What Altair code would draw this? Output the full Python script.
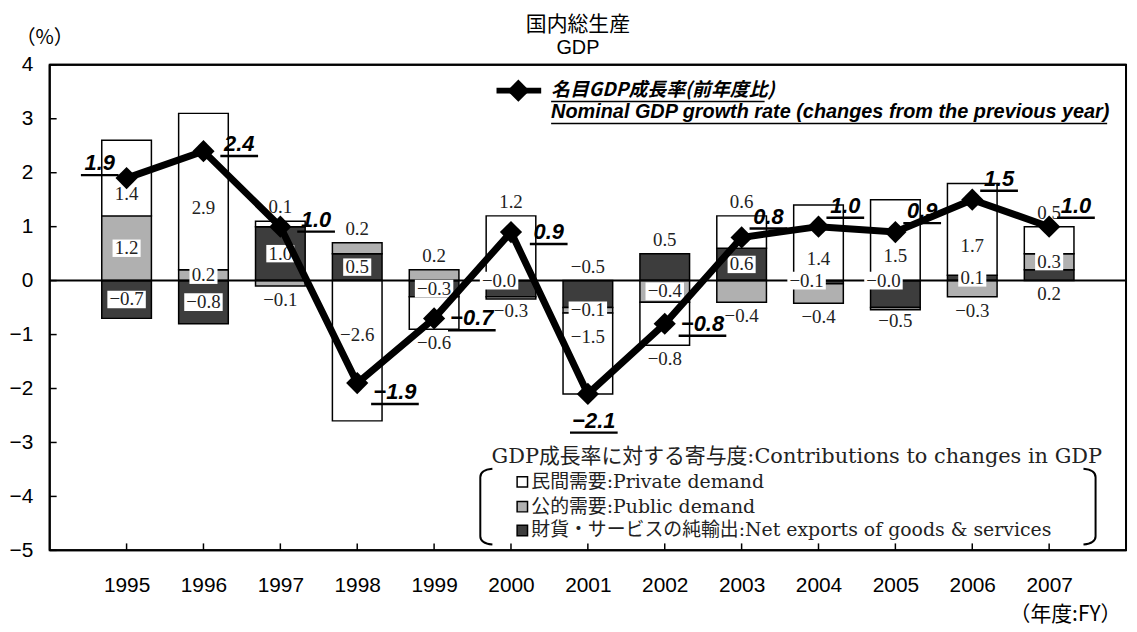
import altair as alt
import pandas as pd

# ---------------- data ----------------
years = [1995, 1996, 1997, 1998, 1999, 2000, 2001, 2002, 2003, 2004, 2005, 2006, 2007]
growth = [1.9, 2.4, 1.0, -1.9, -0.7, 0.9, -2.1, -0.8, 0.8, 1.0, 0.9, 1.5, 1.0]
private_demand = [1.4, 2.9, 0.1, -2.6, -0.6, 1.2, -1.5, -0.8, 0.6, 1.4, 1.5, 1.7, 0.5]
public_demand = [1.2, 0.2, -0.1, 0.2, 0.2, -0.04, -0.1, -0.4, -0.4, -0.36, -0.04, -0.3, 0.3]
net_exports = [-0.7, -0.8, 1.0, 0.5, -0.3, -0.3, -0.5, 0.5, 0.6, -0.06, -0.5, 0.1, 0.2]
y_ticks = [-5, -4, -3, -2, -1, 0, 1, 2, 3, 4]

title_ja = "国内総生産"
title_en = "GDP"
unit_label = "（%）"
fy_label = "（年度:FY）"
line_legend_ja = "名目GDP成長率(前年度比)"
line_legend_en = "Nominal GDP growth rate (changes from the previous year)"
contrib_title = "GDP成長率に対する寄与度:Contributions to changes in GDP"
contrib_items = ["民間需要:Private demand", "公的需要:Public demand",
                 "財貨・サービスの純輸出:Net exports of goods & services"]

# stacking order outward from zero
series_order = ["net", "public", "private"]
fill_colors = {"private": "#ffffff", "public": "#b0b0b0", "net": "#3d3d3d"}


def fmt(v):
    return f"{v:.1f}".replace("-", "\u2212")


# ---------------- stacked segments + label anchors ----------------
rows = []
for i, yr in enumerate(years):
    vals = {"net": net_exports[i], "public": public_demand[i], "private": private_demand[i]}
    pos, neg = 0.0, 0.0
    segs = []
    for s in series_order:
        v = vals[s]
        if v >= 0:
            y0, y1 = pos, pos + v
            pos += v
        else:
            y0, y1 = neg, neg + v
            neg += v
        segs.append({"year": yr, "series": s, "value": v, "y0": y0, "y1": y1, "label": fmt(v)})
    significant = [g for g in segs if abs(g["value"]) >= 0.08]
    outer_pos = [g for g in significant if g["value"] > 0]
    outer_neg = [g for g in significant if g["value"] < 0]
    outer = []
    if outer_pos:
        outer.append(outer_pos[-1]["series"])
    if outer_neg:
        outer.append(outer_neg[-1]["series"])
    for idx, g in enumerate(segs):
        v = g["value"]
        big = 1.25 if g["series"] == "private" else 0.65
        mid = (g["y0"] + g["y1"]) / 2
        if abs(v) < 0.08:
            place, ly = "zero", 0.0
        elif abs(v) >= big:
            place, ly = "center", mid
            if g["series"] == "private":
                ly = mid - 0.3 * (1 if v > 0 else -1)
        elif g["series"] in outer:
            place, ly = ("above" if v > 0 else "below"), g["y1"]
        elif idx == 0 and not (outer_neg if v > 0 else outer_pos):
            place, ly = ("below" if v > 0 else "above"), 0.0
        else:
            place, ly = "center", mid
        g["place"] = place
        g["ly"] = ly
        rows.append(g)
seg_df = pd.DataFrame(rows)
line_df = pd.DataFrame({"year": years, "growth": growth, "label": [fmt(v) for v in growth]})
ytick_df = pd.DataFrame({"v": y_ticks})
xtick_df = pd.DataFrame({"year": years})

# ---------------- shared scales / axes ----------------
x_scale = alt.Scale(domain=[1994, 2008], nice=False, zero=False)
y_scale = alt.Scale(domain=[-5, 4], nice=False, zero=False)
x_axis = alt.Axis(values=years, format="d", title=None, ticks=False, domain=False, grid=False,
                  labelPadding=24, labelFontSize=21, labelFont="Liberation Sans", labelColor="black")
y_axis = alt.Axis(values=y_ticks, title=None, ticks=False, domain=False, grid=False,
                  labelPadding=17, labelFontSize=21, labelFont="Liberation Sans", labelColor="black")


def X(field):
    return alt.X(field, type="quantitative", scale=x_scale, axis=x_axis)


def Y(field):
    return alt.Y(field, type="quantitative", scale=y_scale, axis=y_axis)


layers = []

# bars
bars = alt.Chart(seg_df).mark_rect(stroke="black", strokeWidth=1.5, xOffset=-25, x2Offset=25).encode(
    x=X("year"), x2="year", y=Y("y0"), y2="y1",
    fill=alt.Fill("series:N", scale=alt.Scale(domain=list(fill_colors.keys()),
                                              range=list(fill_colors.values())), legend=None),
)
layers.append(bars)

# zero line
zero = alt.Chart(pd.DataFrame({"v": [0]})).mark_rule(color="black", strokeWidth=2).encode(y=Y("v"))
layers.append(zero)

# plot frame
one = pd.DataFrame({"k": [0]})
for x1, x2, y1, y2 in ((0, 1084, 0, 0), (0, 1084, 489, 489), (0, 0, 0, 489), (1084, 1084, 0, 489)):
    layers.append(alt.Chart(one).mark_rule(color="black", strokeWidth=2).encode(
        x=alt.value(x1), x2=alt.value(x2), y=alt.value(y1), y2=alt.value(y2)))

# inward ticks
layers.append(alt.Chart(ytick_df).mark_rule(color="black", strokeWidth=1.5).encode(
    y=Y("v"), x=alt.value(0), x2=alt.value(7)))
layers.append(alt.Chart(xtick_df).mark_rule(color="black", strokeWidth=1.5).encode(
    x=X("year"), y=alt.value(489), y2=alt.value(482)))

# contribution labels (with white boxes for the ones sitting on the bars)
box_pos = "M-1,-0.62L1,-0.62L1,0.62L-1,0.62Z"
box_neg = "M-1,-0.46L1,-0.46L1,0.46L-1,0.46Z"
label_font = "Liberation Serif"
place_offsets = {"center": (0, 0), "zero": (-12, 0), "above": (0, -14), "below": (0, 14)}
for place, (dx, dy) in place_offsets.items():
    sub = alt.Chart(seg_df).transform_filter(alt.datum.place == place)
    if place in ("center", "zero"):
        for shape, size, cond in ((box_pos, 800, alt.datum.value >= 0), (box_neg, 1500, alt.datum.value < 0)):
            layers.append(sub.transform_filter(cond).mark_point(
                shape=shape, filled=True, color="white", opacity=1, size=size, strokeWidth=0,
                xOffset=dx, yOffset=dy).encode(x=X("year"), y=Y("ly")))
    layers.append(sub.mark_text(font=label_font, fontSize=19, color="#222", dx=dx, dy=dy,
                                align="center", baseline="middle").encode(
        x=X("year"), y=Y("ly"), text="label:N"))

# growth line
layers.append(alt.Chart(line_df).mark_line(color="black", strokeWidth=7).encode(
    x=X("year"), y=Y("growth")))
layers.append(alt.Chart(line_df).mark_point(shape="diamond", filled=True, color="black",
                                            opacity=1, size=500).encode(
    x=X("year"), y=Y("growth")))

# growth labels (bold italic, underlined)
groups = [([1995], -27, -15), ([1996, 1997], 36, -7), ([2003, 2004, 2005, 2006, 2007], 27, -21),
          ([1999, 2000, 2002], 38, 0), ([1998], 38, 9), ([2001], 6, 27)]
for yrs, dx, dy in groups:
    sub = alt.Chart(line_df).transform_filter(alt.FieldOneOfPredicate(field="year", oneOf=yrs))
    layers.append(sub.mark_text(font="Liberation Sans", fontSize=22, fontWeight="bold",
                                fontStyle="italic", color="black", dx=dx, dy=dy,
                                align="center", baseline="middle").encode(
        x=X("year"), y=Y("growth"), text="label:N"))
    for cond, hw in ((alt.datum.growth >= 0, 19), (alt.datum.growth < 0, 24)):
        layers.append(sub.transform_filter(cond).mark_rule(
            color="black", strokeWidth=2.5, xOffset=dx - hw, x2Offset=dx + hw, yOffset=dy + 12).encode(
            x=X("year"), x2="year", y=Y("growth")))


# ---------------- titles and custom legends (pixel positions) ----------------
def text_at(txt, x, y, size, font, align="center", weight="normal", style="normal", color="black"):
    return alt.Chart(pd.DataFrame({"t": [txt]})).mark_text(
        font=font, fontSize=size, fontWeight=weight, fontStyle=style, align=align,
        baseline="middle", color=color).encode(x=alt.value(x), y=alt.value(y), text="t:N")


cjk = "Noto Sans CJK JP"
serif_cjk = '"DejaVu Serif", "Noto Sans CJK JP"'
layers.append(text_at(title_ja, 532, -40, 21, cjk))
layers.append(text_at(title_en, 532, -17, 20, "Liberation Sans"))
layers.append(text_at(unit_label, -5, -27, 20, cjk))
layers.append(text_at(fy_label, 1023, 554, 21, cjk))

# line legend
layers.append(alt.Chart(one).mark_rule(color="black", strokeWidth=6).encode(
    x=alt.value(450), x2=alt.value(495), y=alt.value(26)))
layers.append(alt.Chart(one).mark_point(shape="diamond", filled=True, color="black", opacity=1,
                                        size=500).encode(x=alt.value(472), y=alt.value(26)))
layers.append(text_at(line_legend_ja, 505, 25, 19, "Noto Sans CJK JP", align="left", style="italic",
                      weight="bold"))
layers.append(text_at(line_legend_en, 505, 48, 20, "Liberation Sans", align="left", style="italic",
                      weight="bold"))
layers.append(alt.Chart(one).mark_rule(color="black", strokeWidth=1.5).encode(
    x=alt.value(505), x2=alt.value(720), y=alt.value(37)))
layers.append(alt.Chart(one).mark_rule(color="black", strokeWidth=1.5).encode(
    x=alt.value(505), x2=alt.value(1065), y=alt.value(59)))

# contributions legend
layers.append(text_at(contrib_title, 445, 395, 21, serif_cjk, align="left", color="#222"))
item_ys = [420, 445, 469]
item_fills = [fill_colors["private"], fill_colors["public"], fill_colors["net"]]
for txt, yy, fc in zip(contrib_items, item_ys, item_fills):
    layers.append(alt.Chart(one).mark_point(shape="square", filled=True, fill=fc, stroke="black",
                                            strokeWidth=1.5, opacity=1, size=110).encode(
        x=alt.value(476), y=alt.value(yy)))
    layers.append(text_at(txt, 485, yy, 19, serif_cjk, align="left", color="#222"))

left_br = "M0.18,-1 Q-0.14,-0.97 -0.14,-0.78 L-0.14,0.78 Q-0.14,0.97 0.18,1"
right_br = "M-0.18,-1 Q0.14,-0.97 0.14,-0.78 L0.14,0.78 Q0.14,0.97 -0.18,1"
for shp, xx in ((left_br, 439), (right_br, 1048)):
    layers.append(alt.Chart(one).mark_point(shape=shp, filled=False, stroke="black", strokeWidth=2,
                                            opacity=1, size=5800).encode(
        x=alt.value(xx), y=alt.value(445)))

chart = alt.layer(*layers).properties(
    width=1084, height=489, autosize="none",
    padding={"left": 42, "top": 55, "right": 3, "bottom": 80},
).configure(background="white").configure_view(stroke="black", strokeWidth=2)

chart.save("out.html", embed_options={"renderer": "svg", "actions": False})
